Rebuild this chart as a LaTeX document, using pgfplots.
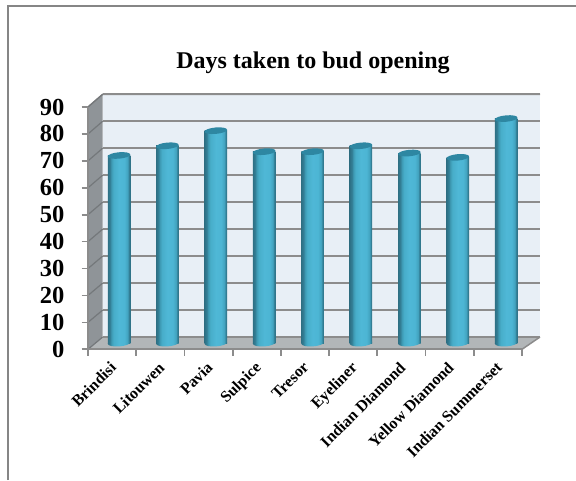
\documentclass[border=0pt]{standalone}
\usepackage{pgfplots}
\usepackage{pgfplotstable}
\usepackage{fontspec}
\setmainfont{Liberation Serif}
\pgfplotsset{compat=1.18}

\definecolor{wallback}{HTML}{E8EFF6}
\definecolor{wallside}{HTML}{8F9498}
\definecolor{wallfloor}{HTML}{B2B6B8}
\definecolor{gridgray}{HTML}{8C8C8C}
\definecolor{sidegrid}{HTML}{74787B}
\definecolor{framegray}{HTML}{868686}
\definecolor{captop}{HTML}{2E87A2}

% Horizontal colour ramp that gives the bars their round look
\pgfdeclarehorizontalshading{cylinder}{100bp}{
  rgb(0bp)=(0.18,0.44,0.52);
  rgb(25bp)=(0.18,0.44,0.52);
  rgb(30bp)=(0.20,0.50,0.59);
  rgb(33bp)=(0.24,0.60,0.70);
  rgb(38bp)=(0.28,0.68,0.79);
  rgb(50bp)=(0.31,0.72,0.84);
  rgb(62bp)=(0.30,0.71,0.83);
  rgb(69bp)=(0.26,0.64,0.75);
  rgb(72bp)=(0.20,0.50,0.59);
  rgb(75bp)=(0.18,0.44,0.52);
  rgb(100bp)=(0.18,0.44,0.52)}

% Bar foot and cap, slightly tilted like the perspective of the chart
\pgfdeclareplotmark{barfoot}{%
  \pgfpathellipse{\pgfpointorigin}{\pgfqpoint{11.25pt}{0.8pt}}{\pgfqpoint{-0.2pt}{3.4pt}}%
  \pgfshadepath{cylinder}{0}\pgfusepath{discard}}
\pgfdeclareplotmark{barcap}{%
  \pgfpathellipse{\pgfpointorigin}{\pgfqpoint{11.25pt}{1pt}}{\pgfqpoint{-0.2pt}{3.2pt}}%
  \pgfusepath{fill}}

\pgfplotstableread{
idx days
0 69.6
1 73.2
2 78.8
3 71.0
4 71.0
5 73.2
6 70.5
7 68.9
8 83.3
}\daystable

\begin{document}
\begin{tikzpicture}[x=1pt,y=1pt]
\path[use as bounding box] (0,0) rectangle (576,480);

% Frame of the chart area
\draw[framegray,line width=2.3pt] (8.3,0) -- (8.3,474) -- (576,474);

% Title
\node[font=\fontsize{24}{27}\selectfont\bfseries] at (313,417.5) {Days taken to bud opening};

% Back wall with its grid
\begin{axis}[
  at={(102.7pt,143pt)},anchor=south west,scale only axis,
  width=437.3pt,height=242.7pt,
  xmin=0,xmax=9,ymin=0,ymax=90,
  ytick={0,10,...,90},xtick=\empty,yticklabels={},
  ymajorgrids,
  major grid style={gridgray,line width=1.7pt},
  major tick length=0pt,
  axis line style={draw=none},
  axis background/.style={fill=wallback},
  clip=false]
  \addplot[draw=none] coordinates {(0,0) (9,90)};
\end{axis}

% Side wall and floor
\fill[wallside] (88,130.7) -- (102.7,143) -- (102.7,385.7) -- (88,373) -- cycle;
\fill[wallfloor] (88,130.7) -- (102.7,143) -- (540,143) -- (522,130.7) -- cycle;
\draw[gridgray,line width=1.5pt] (102.7,143) -- (540,143);
\draw[gridgray,line width=1.5pt] (522,130.7) -- (540,143);
\draw[gridgray,line width=1.5pt] (88,373) -- (102.7,385.7) -- (540,385.7);
\foreach \k in {0,...,9}
  \draw[sidegrid,line width=1.2pt] (88,130.7+26.92*\k) -- (102.7,143+26.97*\k);

% Front plane: scale numbers, ticks and category names
\begin{axis}[
  at={(88pt,130.7pt)},anchor=south west,scale only axis,
  width=434pt,height=242.3pt,
  xmin=0,xmax=9,ymin=0,ymax=90,
  axis x line*=bottom,axis y line*=left,
  axis line style={gridgray,line width=1.7pt,-},
  ytick={0,10,...,90},
  xtick={0,...,9},xticklabels={},
  tick style={gridgray,line width=1.7pt},
  major tick length=6.5pt,
  tick align=outside,
  yticklabel style={font=\fontsize{24.5}{25}\selectfont\bfseries,xshift=-13.5pt},
  /pgf/number format/assume math mode=true,
  extra x ticks={0.5,1.5,...,8.5},
  extra x tick labels={Brindisi,Litouwen,Pavia,Sulpice,Tresor,Eyeliner,Indian Diamond,Yellow Diamond,Indian Summerset},
  extra x tick style={
    major tick length=0pt,
    tick label style={font=\fontsize{16}{17}\selectfont\bfseries,rotate=45,anchor=north east,inner sep=0pt,xshift=-10pt,yshift=-6pt}},
  clip=false]
  \addplot[draw=none] coordinates {(0,0) (9,90)};
\end{axis}

% Cylindrical bars, one plot each so that every bar gets its own shading
\begin{axis}[
  at={(94.8pt,137pt)},anchor=south west,scale only axis,
  width=435.6pt,height=242.5pt,
  xmin=-0.5,xmax=8.5,ymin=0,ymax=90,
  hide axis,clip=false,
  cylbar/.style={ybar,bar width=22.5pt,bar shift=0pt,draw=none,shade,shading=cylinder}]
  \addplot[only marks,mark=barfoot] table[x=idx,y expr=0] {\daystable};
  \addplot[cylbar] coordinates {(0,69.6)};
  \addplot[cylbar] coordinates {(1,73.2)};
  \addplot[cylbar] coordinates {(2,78.8)};
  \addplot[cylbar] coordinates {(3,71.0)};
  \addplot[cylbar] coordinates {(4,71.0)};
  \addplot[cylbar] coordinates {(5,73.2)};
  \addplot[cylbar] coordinates {(6,70.5)};
  \addplot[cylbar] coordinates {(7,68.9)};
  \addplot[cylbar] coordinates {(8,83.3)};
  \addplot[only marks,mark=barcap,color=captop,fill=captop] table[x=idx,y=days] {\daystable};
\end{axis}
\end{tikzpicture}
\end{document}
